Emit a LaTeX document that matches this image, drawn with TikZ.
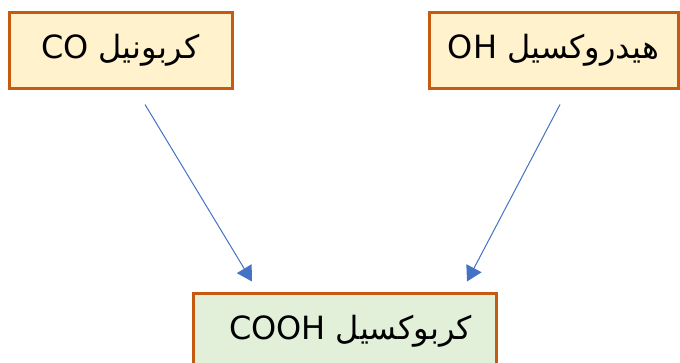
\documentclass[tikz,border=0pt]{standalone}
\usepackage{fontspec}
\setmainfont{Liberation Sans}
\newfontfamily\arabicfont[Script=Arabic]{DejaVu Sans}
\TeXXeTstate=1
\usetikzlibrary{arrows.meta}
\definecolor{boxline}{HTML}{C55A11}
\definecolor{orangefill}{HTML}{FFF2CC}
\definecolor{greenfill}{HTML}{E2F0D9}
\definecolor{arrowblue}{HTML}{4472C4}

\begin{document}
\begin{tikzpicture}[x=1pt,y=-1pt,
            group/.style={draw=boxline,line width=3pt,fill=orangefill,inner sep=0pt,
              minimum height=76pt,font=\fontsize{32}{37}\selectfont\arabicfont},
            arr/.style={arrowblue,line width=1pt,-{Triangle[length=15pt,width=17pt]}}]
            \useasboundingbox (0,0) rectangle (680,362);
            \clip (0,0) rectangle (680,362);

            \node[group,minimum width=223pt] (carbonyl) at (120.5,50) {\beginR كربونيل CO\endR};
            \node[group,minimum width=249pt] (hydroxyl) at (553.5,50) {\beginR هيدروكسيل OH\endR};
            \node[group,fill=greenfill,minimum width=303pt] (carboxyl) at (344.5,331) {\hspace*{12pt}\beginR كربوكسيل COOH\endR};

            \draw[arr] ([xshift=24.5pt,yshift=-15pt]carbonyl.south) -- ([xshift=-92.5pt,yshift=10pt]carboxyl.north);
            \draw[arr] ([xshift=6.5pt,yshift=-15pt]hydroxyl.south) -- ([xshift=122.5pt,yshift=10pt]carboxyl.north);
        \end{tikzpicture}
\end{document}
